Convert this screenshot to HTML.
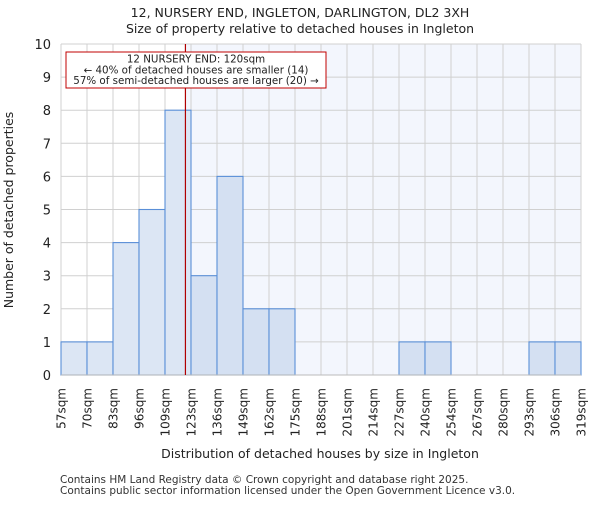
<!DOCTYPE html>
<html><head><meta charset="utf-8"><style>body{margin:0;background:#fff}svg{font-family:"DejaVu Sans","Liberation Sans",sans-serif}</style></head>
<body>
<svg id="chart" width="600" height="500" viewBox="0 0 600 500" xmlns="http://www.w3.org/2000/svg">
<rect width="600" height="500" fill="#fff"/>
<text x="300" y="17" text-anchor="middle" font-size="12.5" fill="#222">12, NURSERY END, INGLETON, DARLINGTON, DL2 3XH</text>
<text x="300" y="33" text-anchor="middle" font-size="12.5" fill="#222">Size of property relative to detached houses in Ingleton</text>
<g id="plot"></g>
<text x="320" y="458" text-anchor="middle" font-size="12.5" fill="#222">Distribution of detached houses by size in Ingleton</text>
<text transform="translate(13,210) rotate(-90)" text-anchor="middle" font-size="12.5" fill="#222">Number of detached properties</text>
<text x="60" y="483" font-size="10.5" fill="#333">Contains HM Land Registry data © Crown copyright and database right 2025.</text>
<text x="60" y="494" font-size="10.5" fill="#333">Contains public sector information licensed under the Open Government Licence v3.0.</text>
</svg>
<script>
const edges=[57,70,83,96,109,123,136,149,162,175,188,201,214,227,240,254,267,280,293,306,319];
const counts=[1,1,4,5,8,3,6,2,2,0,0,0,0,1,1,0,0,0,1,1];
const yTicks=[0,1,2,3,4,5,6,7,8,9,10];
const subjectSize=120;
const subjectBin=5;
const NS="http://www.w3.org/2000/svg";
const L=61,R=581,T=44,B=375,nb=counts.length;
const xi=i=>L+(R-L)*i/nb;
const xv=v=>{let i=0;while(i<nb-1&&v>=edges[i+1])i++;return xi(i)+(v-edges[i])/(edges[i+1]-edges[i])*(xi(i+1)-xi(i));};
const y=v=>B-(B-T)*v/10;
const g=document.getElementById('plot');
function mk(t,a){const e=document.createElementNS(NS,t);for(const k in a)e.setAttribute(k,a[k]);g.appendChild(e);return e;}
const lx=xv(subjectSize);
let e=mk('rect',{x:lx,y:T,width:R-lx,height:B-T,fill:'#f3f6fd'});


for(let i=0;i<=nb;i++){e=mk('line',{x1:xi(i),x2:xi(i),y1:T,y2:B,stroke:'#d0d0d0','stroke-width':1});

}
yTicks.forEach(v=>{e=mk('line',{x1:L,x2:R,y1:y(v),y2:y(v),stroke:'#d0d0d0','stroke-width':1});


e=mk('text',{x:L-10,y:y(v)+5,'text-anchor':'end','font-size':13,fill:'#222'});e.textContent=v;

});
counts.forEach((c,i)=>{if(!c)return;e=mk('rect',{x:xi(i),y:y(c),width:xi(i+1)-xi(i),height:B-y(c),fill:i<subjectBin?'#dce6f4':'#d4e0f2',stroke:'#5a8fd8','stroke-width':1.1});

});
edges.forEach((v,i)=>{e=mk('text',{transform:`translate(${xi(i)+4.5},388) rotate(-90)`,'text-anchor':'end','font-size':12,fill:'#222'});e.textContent=v+'sqm';

});
e=mk('line',{x1:L,x2:R,y1:B,y2:B,stroke:'#bbb','stroke-width':1});


e=mk('line',{x1:lx,x2:lx,y1:T,y2:B,stroke:'#b00000','stroke-width':1.2});


e=mk('rect',{x:66,y:52,width:260,height:36,fill:'#fff',stroke:'#c00000','stroke-width':1});


['12 NURSERY END: 120sqm','← 40% of detached houses are smaller (14)','57% of semi-detached houses are larger (20) →'].forEach((t,k)=>{e=mk('text',{x:196,y:62.5+k*10.8,'text-anchor':'middle','font-size':10.3,fill:'#222'});e.textContent=t;

});
</script>
</body></html>
